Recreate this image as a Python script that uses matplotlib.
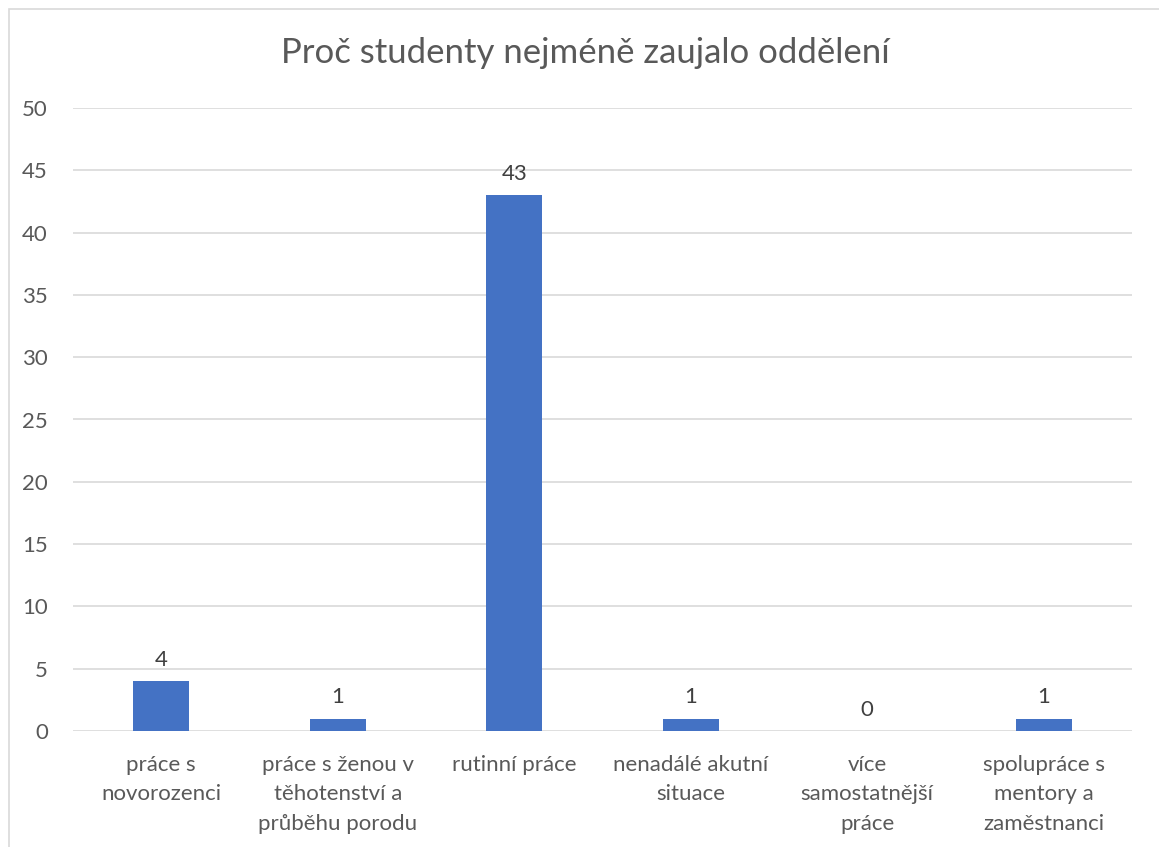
import matplotlib
matplotlib.use("Agg")
import matplotlib.pyplot as plt
from matplotlib.patches import Rectangle

categories = ["práce s\nnovorozenci", "práce s ženou v\ntěhotenství a\nprůběhu porodu",
              "rutinní práce", "nenadálé akutní\nsituace", "více\nsamostatnější\npráce",
              "spolupráce s\nmentory a\nzaměstnanci"]
values = [4, 1, 43, 1, 0, 1]
yticks = [0, 5, 10, 15, 20, 25, 30, 35, 40, 45, 50]
title = "Proč studenty nejméně zaujalo oddělení"

plt.rcParams['font.family'] = ['Lato', 'DejaVu Sans']
txt = '#595959'
W, H = 1159, 847
fig = plt.figure(figsize=(W/100, H/100), dpi=100)
fig.patches.append(Rectangle((9/W, -0.1), 1.2, 1.1 - 9/H, transform=fig.transFigure,
                             fill=False, edgecolor='#d9d9d9', linewidth=1.2, zorder=0))
ax = fig.add_axes([73/W, 1 - 731/H, (1132-73)/W, (731-108)/H])
x = list(range(len(categories)))
ax.bar(x, values, width=0.317, color='#4472C4', zorder=3)
ax.set_xlim(-0.5, len(categories)-0.5)
ax.set_ylim(0, 50)
ax.set_yticks(yticks)
ax.set_yticklabels([str(v) for v in yticks], fontsize=16, color=txt)
ax.set_xticks(x)
ax.set_xticklabels(categories, fontsize=16, color=txt, linespacing=1.6)
ax.tick_params(axis='both', length=0)
ax.tick_params(axis='x', pad=17)
ax.tick_params(axis='y', pad=18)
ax.grid(axis='y', color='#d9d9d9', linewidth=1.2, zorder=0)
for s in ax.spines.values():
    s.set_visible(False)
for xi, v in zip(x, values):
    ax.annotate(str(v), (xi, v), xytext=(0, 8), textcoords='offset points',
                ha='center', va='bottom', fontsize=16, color='#404040')
fig.text(585/W, 1 - 53/H, title, ha='center', va='center', fontsize=25, color=txt)
fig.savefig('out.png', dpi=100)
